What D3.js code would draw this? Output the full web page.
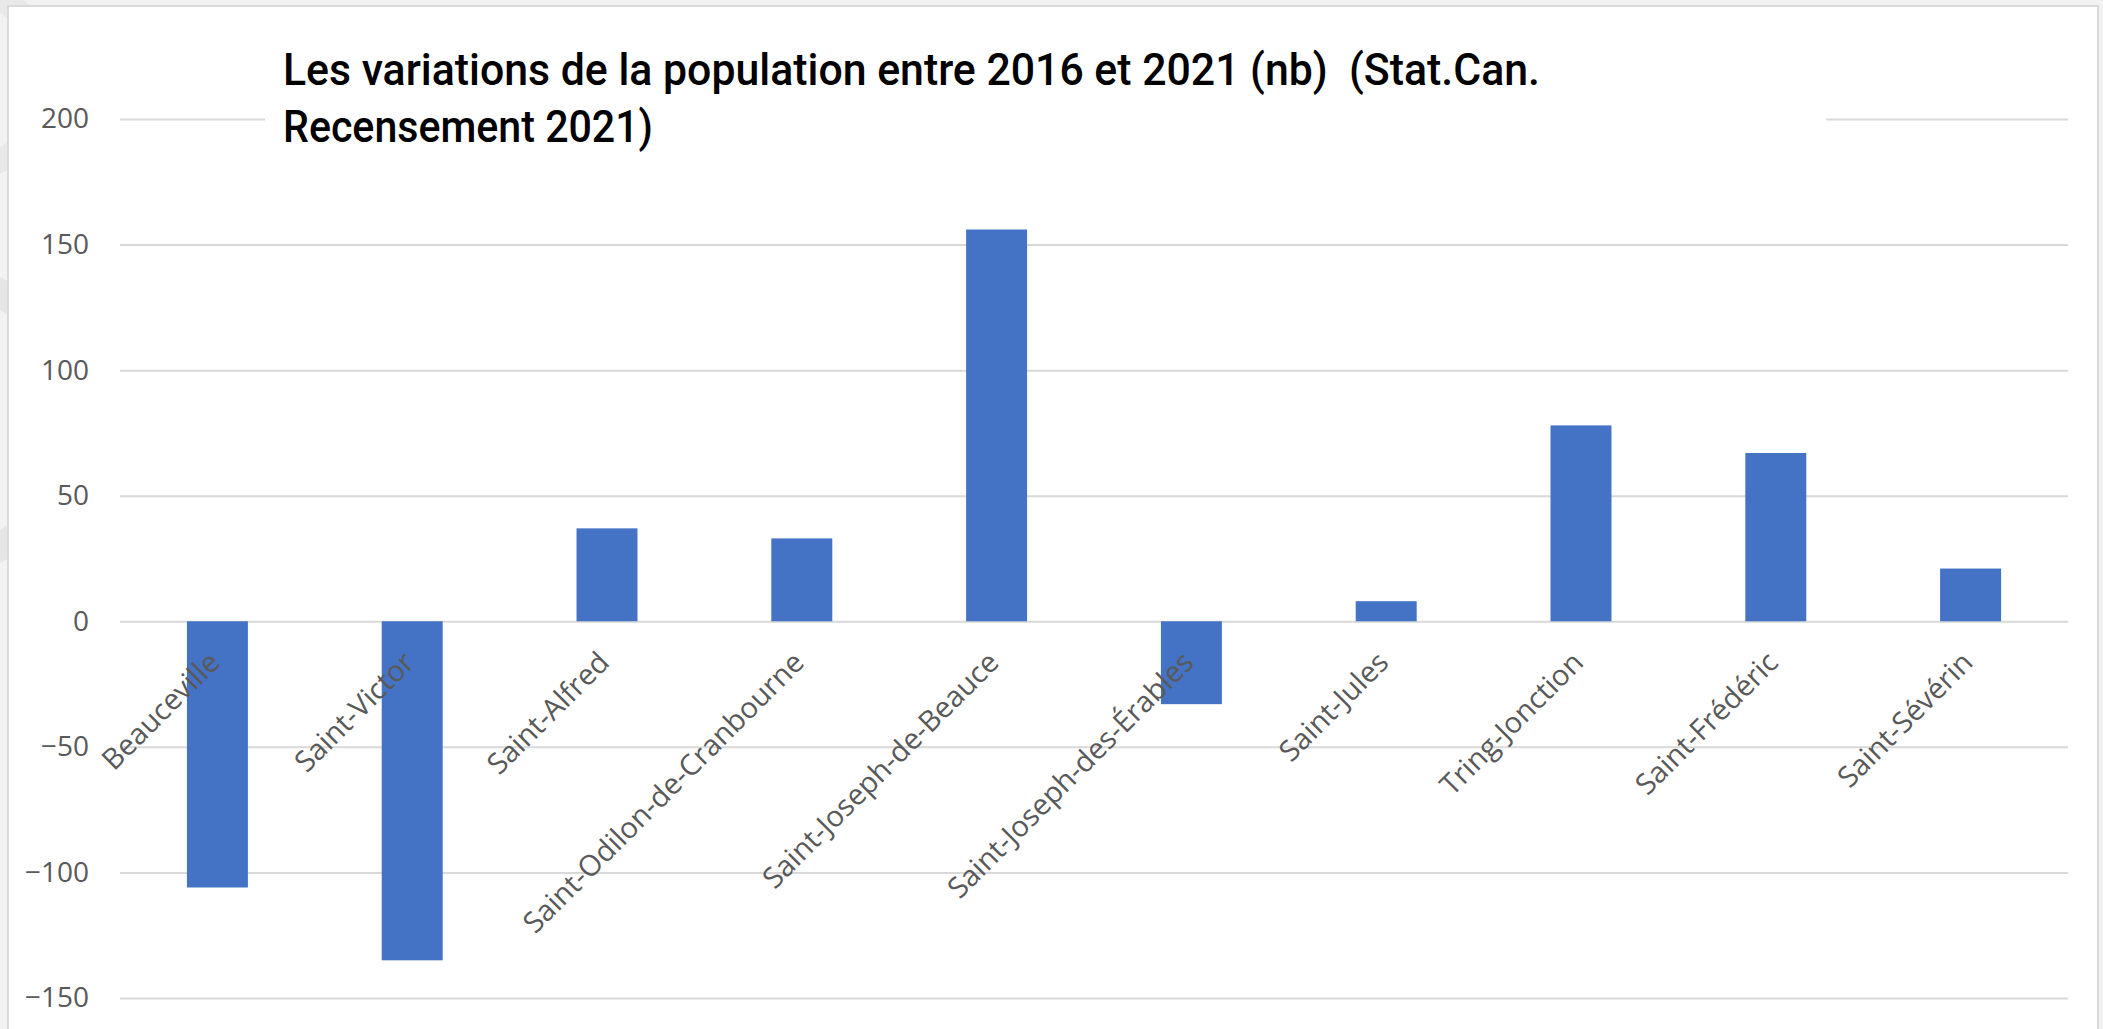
<!DOCTYPE html>
<html>
<head>
<meta charset="utf-8">
<script src="https://cdn.jsdelivr.net/npm/d3@7/dist/d3.min.js"></script>
<style>
  html, body { margin: 0; padding: 0; background: #f2f2f2; overflow: hidden; }
  svg { display: block; }
</style>
</head>
<body>
<svg id="chart" width="2103" height="1029"></svg>
<script>
// ---- Data ----
const categories = [
  "Beauceville", "Saint-Victor", "Saint-Alfred", "Saint-Odilon-de-Cranbourne",
  "Saint-Joseph-de-Beauce", "Saint-Joseph-des-Érables", "Saint-Jules",
  "Tring-Jonction", "Saint-Frédéric", "Saint-Sévérin"
];
const values = [-106, -135, 37, 33, 156, -33, 8, 78, 67, 21];
const yTicks = [-150, -100, -50, 0, 50, 100, 150, 200];
const titleLines = [
  "Les variations de la population entre 2016 et 2021 (nb)  (Stat.Can.",
  "Recensement 2021)"
];

// ---- Layout ----
const W = 2103, H = 1029;
const plot = { left: 120, right: 2068, top: 119, bottom: 998 };
const svg = d3.select("#chart");

// outer background (outside chart frame)
svg.append("rect").attr("x", 0).attr("y", 0).attr("width", W).attr("height", H).attr("fill", "#f2f2f2");
// faint watermark shapes at left edge
svg.append("circle").attr("cx", -60).attr("cy", 420).attr("r", 140)
  .attr("fill", "none").attr("stroke", "#e6e6e6").attr("stroke-width", 30);
svg.append("circle").attr("cx", -40).attr("cy", 80).attr("r", 90)
  .attr("fill", "none").attr("stroke", "#e8e8e8").attr("stroke-width", 24);

// chart frame
svg.append("rect").attr("x", 8).attr("y", 6).attr("width", 2090).attr("height", 1060)
  .attr("fill", "#ffffff").attr("stroke", "#d9d9d9").attr("stroke-width", 2);

// ---- Scales ----
const x = d3.scaleBand().domain(categories).range([plot.left, plot.right]).padding(0);
const y = d3.scaleLinear().domain([-150, 200]).range([plot.bottom, plot.top]);
const barW = x.bandwidth() * 0.313;

// ---- Gridlines + y axis ----
const yAxis = d3.axisLeft(y).tickValues(yTicks).tickSize(-(plot.right - plot.left)).tickPadding(31)
  .tickFormat(d3.format("d"));
const gy = svg.append("g").attr("transform", `translate(${plot.left},0)`).call(yAxis);
gy.select(".domain").remove();
gy.selectAll(".tick line").attr("stroke", "#d9d9d9").attr("stroke-width", 2);
gy.selectAll(".tick text")
  .attr("fill", "#595959")
  .style("font-family", "'Open Sans', 'Noto Sans', sans-serif")
  .style("font-size", "28px");

// ---- Bars ----
svg.append("g").selectAll("rect").data(values).join("rect")
  .attr("x", (d, i) => x(categories[i]) + (x.bandwidth() - barW) / 2)
  .attr("y", d => y(Math.max(0, d)))
  .attr("width", barW)
  .attr("height", d => Math.abs(y(d) - y(0)))
  .attr("fill", "#4472c4");

// ---- Category labels (rotated) ----
svg.append("g").selectAll("text").data(categories).join("text")
  .attr("transform", d => `translate(${x(d) + x.bandwidth() / 2 + 4},${y(0) + 43}) rotate(-45)`)
  .attr("text-anchor", "end")
  .attr("fill", "#595959")
  .style("font-family", "'Open Sans', 'Noto Sans', sans-serif")
  .style("font-size", "29px")
  .text(d => d);

// ---- Title ----
svg.append("rect").attr("x", 265).attr("y", 30).attr("width", 1561).attr("height", 125).attr("fill", "#ffffff");
const tWidths = [1257, 370];
const tY = [85, 142];
svg.append("g").selectAll("text").data(titleLines).join("text")
  .attr("x", 283)
  .attr("y", (d, i) => tY[i])
  .attr("textLength", (d, i) => tWidths[i])
  .attr("lengthAdjust", "spacingAndGlyphs")
  .attr("fill", "#000000")
  .style("white-space", "pre")
  .style("font-family", "Roboto, 'Open Sans', sans-serif")
  .style("font-weight", "500")
  .style("font-size", "44px")
  .text(d => d);
</script>
</body>
</html>
